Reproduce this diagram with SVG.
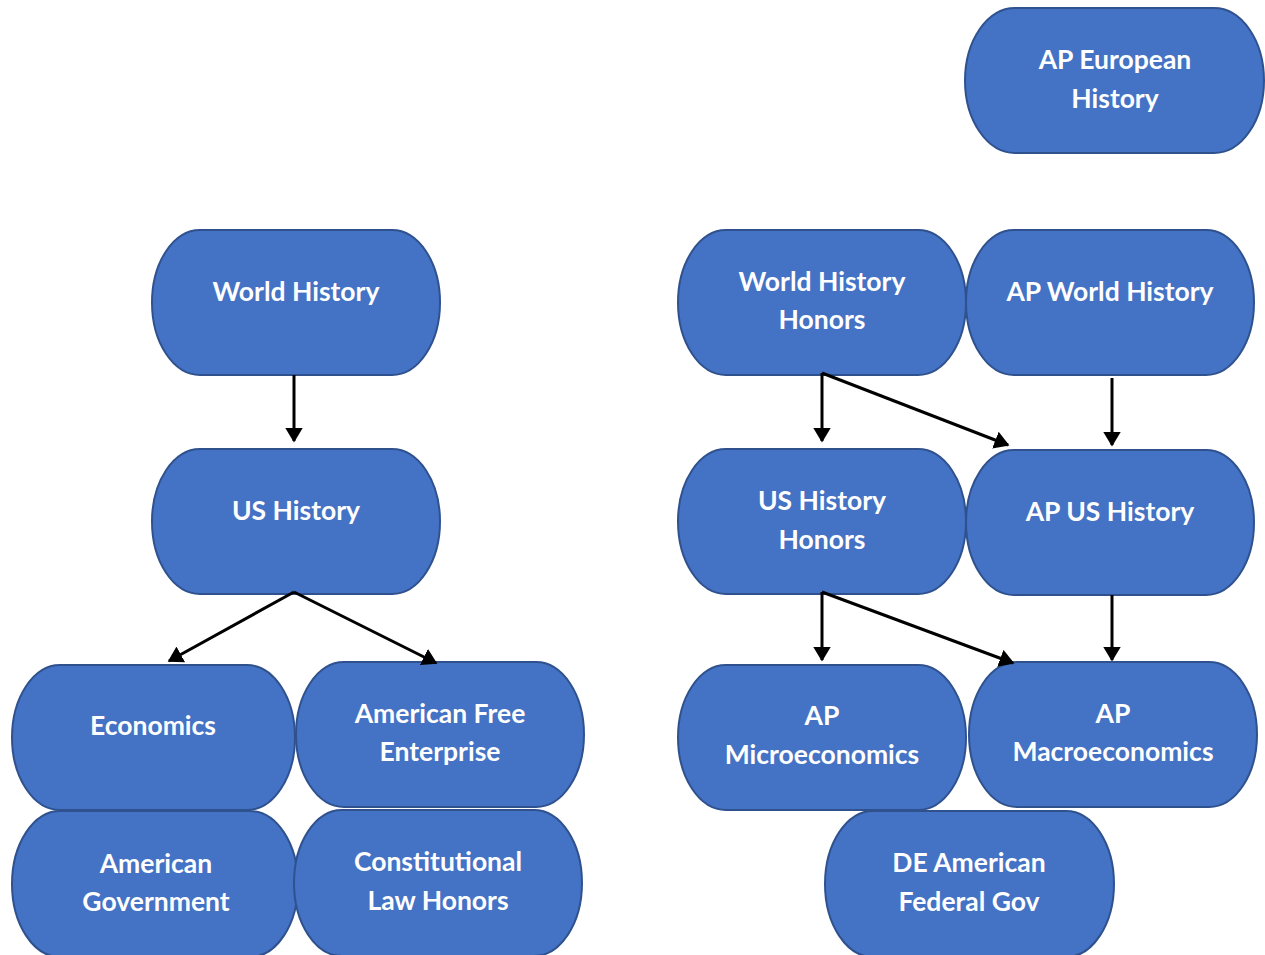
<svg xmlns="http://www.w3.org/2000/svg" width="1265" height="955" viewBox="0 0 1265 955">
<style>
.n{fill:#4472C4;stroke:#2F528F;stroke-width:2}
.t{fill:#fff;font-family:Lato,"Open Sans","Liberation Sans",sans-serif;font-weight:bold;font-size:26.5px;text-anchor:middle}
.c{stroke:#000;stroke-width:3;fill:none;marker-end:url(#ah)}
</style>
<defs>
<marker id="ah" markerWidth="6" markerHeight="6" refX="4.5" refY="3" orient="auto" markerUnits="strokeWidth">
<path d="M0,0 L5,3 L0,6 Z" fill="#000"/>
</marker>
</defs>
<rect width="1265" height="955" fill="#fff"/>
<g id="ap-european-history"><rect class="n" x="965" y="8" width="299" height="145" rx="50" ry="72.5"/><text class="t" x="1115" y="69">AP European</text><text class="t" x="1115" y="108">History</text></g>
<g id="world-history"><rect class="n" x="152" y="230" width="288" height="145" rx="48" ry="72.5"/><text class="t" x="296" y="301">World History</text></g>
<g id="us-history"><rect class="n" x="152" y="449" width="288" height="145" rx="48" ry="72.5"/><text class="t" x="296" y="520">US History</text></g>
<g id="economics"><rect class="n" x="12" y="665" width="283" height="145" rx="48" ry="72.5"/><text class="t" x="153" y="735">Economics</text></g>
<g id="american-free-enterprise"><rect class="n" x="296" y="662" width="288" height="145" rx="48" ry="72.5"/><text class="t" x="440" y="723">American Free</text><text class="t" x="440" y="761">Enterprise</text></g>
<g id="american-government"><rect class="n" x="12" y="811" width="286" height="146" rx="48" ry="73"/><text class="t" x="156" y="873">American</text><text class="t" x="156" y="911">Government</text></g>
<g id="constitutional-law-honors"><rect class="n" x="294" y="810" width="288" height="146" rx="48" ry="73"/><text class="t" x="438" y="871">Constitutional</text><text class="t" x="438" y="910">Law Honors</text></g>
<g id="world-history-honors"><rect class="n" x="678" y="230" width="288" height="145" rx="48" ry="72.5"/><text class="t" x="822" y="291">World History</text><text class="t" x="822" y="329">Honors</text></g>
<g id="ap-world-history"><rect class="n" x="966" y="230" width="288" height="145" rx="48" ry="72.5"/><text class="t" x="1110" y="301">AP World History</text></g>
<g id="us-history-honors"><rect class="n" x="678" y="449" width="288" height="145" rx="48" ry="72.5"/><text class="t" x="822" y="510">US History</text><text class="t" x="822" y="549">Honors</text></g>
<g id="ap-us-history"><rect class="n" x="966" y="450" width="288" height="145" rx="48" ry="72.5"/><text class="t" x="1110" y="521">AP US History</text></g>
<g id="ap-microeconomics"><rect class="n" x="678" y="665" width="288" height="145" rx="48" ry="72.5"/><text class="t" x="822" y="725">AP</text><text class="t" x="822" y="764">Microeconomics</text></g>
<g id="ap-macroeconomics"><rect class="n" x="969" y="662" width="288" height="145" rx="48" ry="72.5"/><text class="t" x="1113" y="723">AP</text><text class="t" x="1113" y="761">Macroeconomics</text></g>
<g id="de-american-federal-gov"><rect class="n" x="825" y="811" width="289" height="146" rx="48" ry="73"/><text class="t" x="969" y="872">DE American</text><text class="t" x="969" y="911">Federal Gov</text></g>
<g id="connectors">
<line class="c" x1="294" y1="375" x2="294" y2="441"/>
<line class="c" x1="294" y1="592" x2="169" y2="661"/>
<line class="c" x1="294" y1="592" x2="436" y2="663"/>
<line class="c" x1="822" y1="373" x2="822" y2="441"/>
<line class="c" x1="822" y1="373" x2="1008" y2="445"/>
<line class="c" x1="1112" y1="378" x2="1112" y2="445"/>
<line class="c" x1="822" y1="592" x2="822" y2="660"/>
<line class="c" x1="822" y1="592" x2="1013" y2="663"/>
<line class="c" x1="1112" y1="595" x2="1112" y2="660"/>
</g>
</svg>
